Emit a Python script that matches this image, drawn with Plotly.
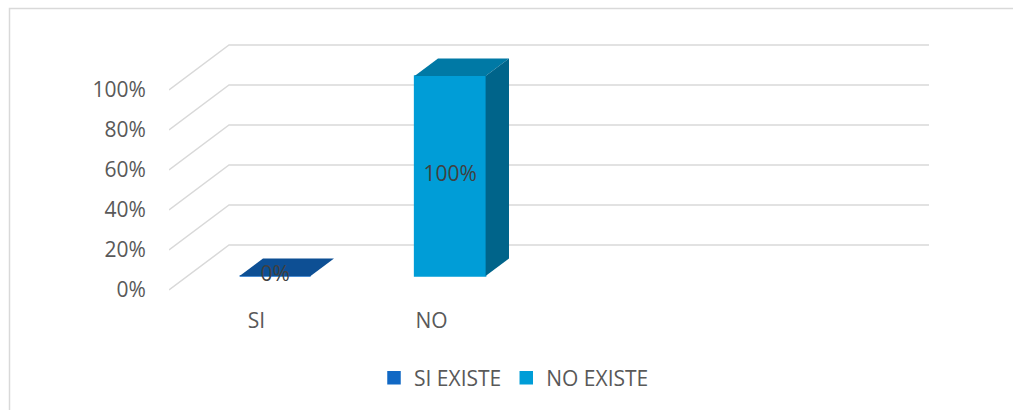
import plotly.graph_objects as go

# --- data -------------------------------------------------------------
categories = ["SI", "NO"]
series_names = ["SI EXISTE", "NO EXISTE"]
values = [0, 100]                      # percent, one bar per category
y_ticks = [0, 20, 40, 60, 80, 100]
tick_labels = ["0%", "20%", "40%", "60%", "80%", "100%"]

# --- styling ----------------------------------------------------------
front_colors = ["#1168C4", "#009DD7"]
top_colors = ["#0D4F94", "#0079A5"]
side_colors = ["#0A3D73", "#00648A"]
GRID = "#D9D9D9"
TICK_COLOR = "#595959"
LABEL_COLOR = "#404040"
FONT = "Open Sans"
FSIZE = 21

# 3D projection of the floor/walls, in axis units
N_SLOTS = 4            # floor width, in category slots
DX = 60 / 175          # depth shift along x (category units)
DY = 22.5              # depth shift along y (percent units)
F0, F1 = 0.31, 0.70    # bar front / back as fraction of floor depth
BAR_W = 71 / 175       # bar width in category units

# plot area geometry (pixels)
W, H = 1013, 410
ML, MR, MT, MB = 169, 73, 30, 110
PW, PH = W - ML - MR, H - MT - MB
X_RANGE = [-0.5, -0.5 + PW / 175]
Y_RANGE = [-5, 130]

fig = go.Figure()

# side wall + back wall gridlines, kept beneath the bars
for v in y_ticks:
    path = (f"M {-0.5},{v} L {-0.5 + DX},{v + DY} "
            f"L {N_SLOTS - 0.5 + DX},{v + DY}")
    fig.add_shape(type="path", path=path, xref="x", yref="y",
                  layer="below", line=dict(color=GRID, width=1.5))

d_x = (F1 - F0) * DX
d_y = (F1 - F0) * DY
base = F0 * DY

for i, (name, v) in enumerate(zip(series_names, values)):
    xc = i + F0 * DX
    xl, xr = xc - BAR_W / 2, xc + BAR_W / 2
    # front face
    fig.add_trace(go.Bar(x=[xc], y=[v], base=[base], width=BAR_W, name=name,
                         marker=dict(color=front_colors[i],
                                     line=dict(width=1.5, color=front_colors[i])),
                         hoverinfo="skip"))
    # top face
    top = base + v
    fig.add_trace(go.Scatter(
        x=[xl, xr, xr + d_x, xl + d_x, xl],
        y=[top, top, top + d_y, top + d_y, top],
        mode="lines", fill="toself", fillcolor=top_colors[i],
        line=dict(width=0, color=top_colors[i]),
        hoverinfo="skip", showlegend=False))
    # right side face
    if v > 0:
        fig.add_trace(go.Scatter(
            x=[xr, xr, xr + d_x, xr + d_x, xr],
            y=[base, top, top + d_y, base + d_y, base],
            mode="lines", fill="toself", fillcolor=side_colors[i],
            line=dict(width=0, color=side_colors[i]),
            hoverinfo="skip", showlegend=False))

# data labels at the centre of each front face
fig.add_trace(go.Scatter(
    x=[i + F0 * DX for i in range(len(values))],
    y=[base + v / 2 for v in values],
    text=[f"{v}%" for v in values],
    mode="text", textposition="middle center",
    textfont=dict(family=FONT, size=FSIZE, color=LABEL_COLOR),
    hoverinfo="skip", showlegend=False, cliponaxis=False))

# chart frame
def px_to_paper_x(p):
    return (p - ML) / PW

def px_to_paper_y(p):
    return (H - MB - p) / PH

fig.add_shape(type="rect", xref="paper", yref="paper", layer="below",
              x0=px_to_paper_x(9.5), x1=px_to_paper_x(1030),
              y0=px_to_paper_y(430), y1=px_to_paper_y(8.5),
              line=dict(color=GRID, width=1.5))

fig.update_layout(
    width=W, height=H,
    margin=dict(l=ML, r=MR, t=MT, b=MB),
    paper_bgcolor="white", plot_bgcolor="white",
    font=dict(family=FONT, size=FSIZE, color=TICK_COLOR),
    barmode="overlay",
    showlegend=True,
    legend=dict(orientation="h", x=px_to_paper_x(514), xanchor="center",
                y=px_to_paper_y(378), yanchor="middle",
                font=dict(family=FONT, size=FSIZE, color=TICK_COLOR),
                traceorder="normal", bgcolor="rgba(0,0,0,0)"),
    xaxis=dict(range=X_RANGE, tickvals=list(range(len(categories))),
               ticktext=categories, showgrid=False, zeroline=False,
               showline=False, ticks="outside", ticklen=2,
               tickcolor="rgba(0,0,0,0)", fixedrange=True),
    yaxis=dict(range=Y_RANGE, tickvals=y_ticks, ticktext=tick_labels,
               showgrid=False, zeroline=False, showline=False,
               ticks="outside", ticklen=18, tickcolor="rgba(0,0,0,0)",
               fixedrange=True),
    hovermode=False,
)

fig.write_html("out.html", config={"displayModeBar": False})
